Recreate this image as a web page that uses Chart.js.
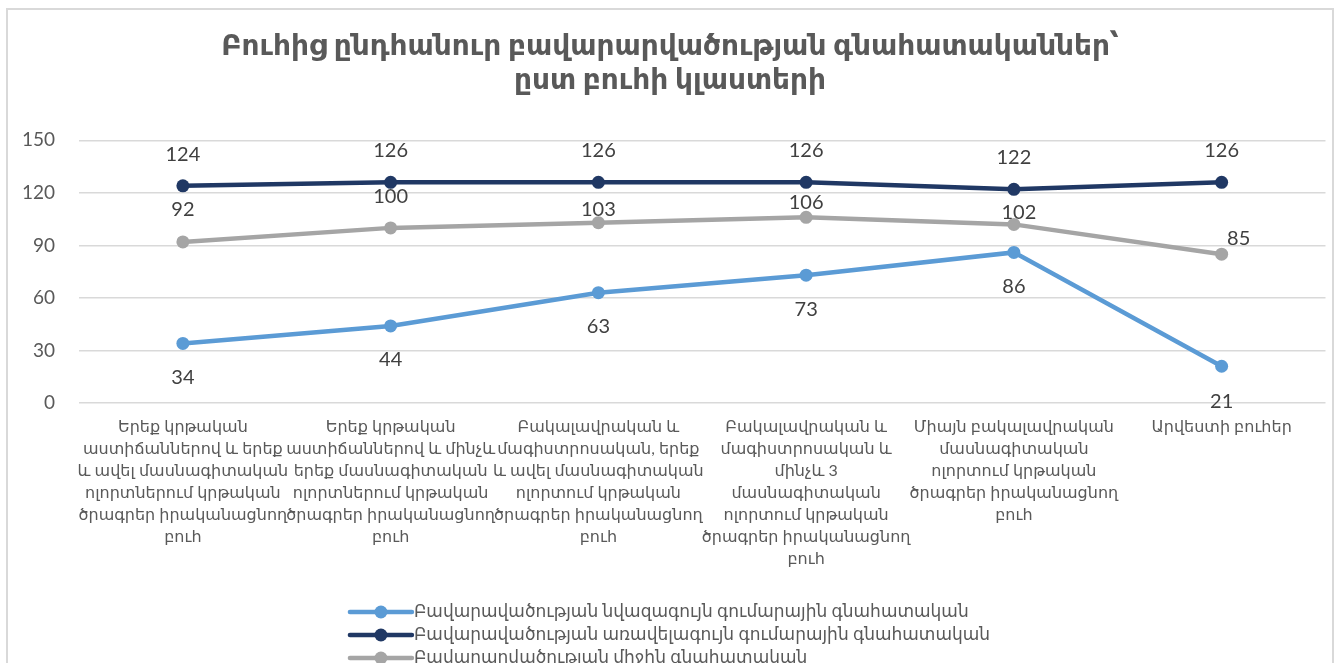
<!DOCTYPE html>
<html>
<head>
<meta charset="utf-8">
<script src="https://cdn.jsdelivr.net/npm/chart.js@4"></script>
<style>
    body { margin: 0; background: #fff; }
    #wrap {
        position: absolute;
        left: 6px;
        top: 8px;
        width: 1324px;
        height: 690px;
        border: 2px solid #d9d9d9;
    }
</style>
</head>
<body>
<div id="wrap"><canvas id="chart"></canvas></div>
<script>
const categories = [
    ['Երեք կրթական', 'աստիճաններով և երեք', 'և ավել մասնագիտական', 'ոլորտներում կրթական', 'ծրագրեր իրականացնող', 'բուհ'],
    ['Երեք կրթական', 'աստիճաններով և մինչև', 'երեք մասնագիտական', 'ոլորտներում կրթական', 'ծրագրեր իրականացնող', 'բուհ'],
    ['Բակալավրական և', 'մագիստրոսական, երեք', 'և ավել մասնագիտական', 'ոլորտում կրթական', 'ծրագրեր իրականացնող', 'բուհ'],
    ['Բակալավրական և', 'մագիստրոսական և', 'մինչև 3', 'մասնագիտական', 'ոլորտում կրթական', 'ծրագրեր իրականացնող', 'բուհ'],
    ['Միայն բակալավրական', 'մասնագիտական', 'ոլորտում կրթական', 'ծրագրեր իրականացնող', 'բուհ'],
    ['Արվեստի բուհեր']
];
const minScores = [34, 44, 63, 73, 86, 21];
const maxScores = [124, 126, 126, 126, 122, 126];
const avgScores = [92, 100, 103, 106, 102, 85];
const seriesNames = [
    'Բավարավածության նվազագույն գումարային գնահատական',
    'Բավարավածության առավելագույն գումարային գնահատական',
    'Բավարարվածության միջին գնահատական'
];
const yTicks = [0, 30, 60, 90, 120, 150];
const titleLines = ['Բուհից ընդհանուր բավարարվածության գնահատականներ՝', 'ըստ բուհի կլաստերի'];

const FONT = "Lato, 'DejaVu Sans', sans-serif";
const TEXT = '#595959';

function series(label, data, color, offsets) {
    return {
        label: label,
        data: data,
        borderColor: color,
        backgroundColor: color,
        pointBackgroundColor: color,
        borderWidth: 4.5,
        borderCapStyle: 'round',
        pointRadius: 6.5,
        pointHoverRadius: 6.5,
        pointBorderWidth: 0,
        tension: 0,
        labelOffsets: offsets
    };
}

// value labels next to each point, shifted like the hand-placed Excel labels
const valueLabels = {
    id: 'valueLabels',
    afterDatasetsDraw(chart) {
        const ctx = chart.ctx;
        ctx.save();
        ctx.font = `20px ${FONT}`;
        ctx.fillStyle = '#404040';
        ctx.textAlign = 'center';
        ctx.textBaseline = 'middle';
        chart.data.datasets.forEach((ds, i) => {
            chart.getDatasetMeta(i).data.forEach((pt, j) => {
                const o = ds.labelOffsets[j];
                ctx.fillText(ds.data[j], pt.x + o[0], pt.y + o[1]);
            });
        });
        ctx.restore();
    }
};

// Excel-style legend: one series per row, line with marker
const rowLegend = {
    id: 'rowLegend',
    afterDraw(chart) {
        const ctx = chart.ctx;
        const sets = chart.data.datasets;
        ctx.save();
        ctx.font = `17px ${FONT}`;
        let w = 0;
        sets.forEach(ds => { w = Math.max(w, ctx.measureText(ds.label).width); });
        const lineW = 62;
        const x0 = chart.width / 2 - (lineW + 2 + w) / 2;
        let y = 602;
        sets.forEach(ds => {
            ctx.strokeStyle = ds.borderColor;
            ctx.lineWidth = 4.5;
            ctx.lineCap = 'round';
            ctx.beginPath();
            ctx.moveTo(x0, y);
            ctx.lineTo(x0 + lineW, y);
            ctx.stroke();
            ctx.fillStyle = ds.borderColor;
            ctx.beginPath();
            ctx.arc(x0 + lineW / 2, y, 6.5, 0, Math.PI * 2);
            ctx.fill();
            ctx.fillStyle = TEXT;
            ctx.textAlign = 'left';
            ctx.textBaseline = 'middle';
            ctx.fillText(ds.label, x0 + lineW + 2, y);
            y += 23;
        });
        ctx.restore();
    }
};

new Chart(document.getElementById('chart'), {
    type: 'line',
    data: {
        labels: categories,
        datasets: [
            series(seriesNames[0], minScores, '#5b9bd5', [[0, 34], [0, 34], [0, 34], [0, 34], [0, 34], [0, 35]]),
            series(seriesNames[1], maxScores, '#203864', [[0, -31], [0, -32], [0, -32], [0, -32], [0, -32], [0, -32]]),
            series(seriesNames[2], avgScores, '#a5a5a5', [[0, -32], [0, -31], [0, -13], [0, -15], [5, -12], [17, -16]])
        ]
    },
    options: {
        responsive: true,
        maintainAspectRatio: false,
        animation: false,
        layout: { padding: 0 },
        plugins: {
            legend: { display: false },
            tooltip: { enabled: false },
            title: {
                display: true,
                text: titleLines,
                color: TEXT,
                font: { family: FONT, size: 28, weight: 'bold', lineHeight: 1.22 },
                padding: { top: 19, bottom: 43 }
            }
        },
        scales: {
            x: {
                offset: true,
                grid: { display: false },
                border: { display: false },
                ticks: {
                    color: TEXT,
                    autoSkip: false,
                    maxRotation: 0,
                    padding: 5,
                    font: { family: FONT, size: 16, lineHeight: 1.37 }
                },
                afterFit: (scale) => { scale.height = scale.chart.height - 393; }
            },
            y: {
                min: 0,
                max: 150,
                border: { display: false },
                grid: { color: '#d9d9d9', lineWidth: 1.5, drawTicks: false },
                afterBuildTicks: (scale) => { scale.ticks = yTicks.map(v => ({value: v})); },
                ticks: {
                    color: TEXT,
                    padding: 24,
                    font: { family: FONT, size: 19 }
                },
                afterFit: (scale) => { scale.width = 71; }
            }
        }
    },
    plugins: [valueLabels, rowLegend]
});
</script>
</body>
</html>
